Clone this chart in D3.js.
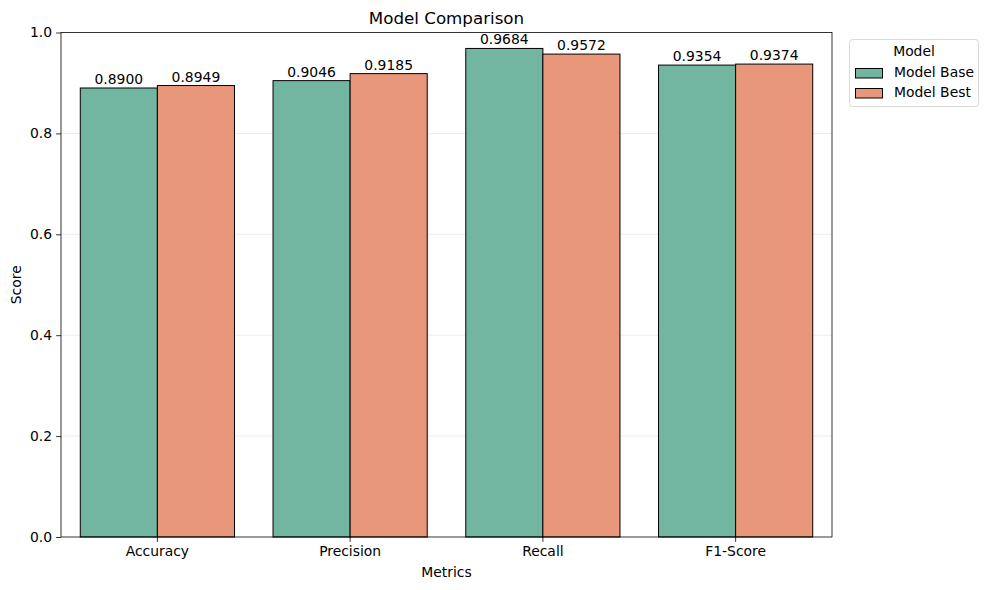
<!DOCTYPE html>
<html><head><meta charset="utf-8">
<script src="https://cdn.jsdelivr.net/npm/d3@7"></script>
<style>body{margin:0;background:#fff}svg{display:block}text{font-family:"DejaVu Sans",sans-serif;fill:#000}</style>
</head><body><svg id="c" width="989" height="590"></svg>
<script>
const categories = ["Accuracy","Precision","Recall","F1-Score"];
const seriesNames = ["Model Base","Model Best"];
const modelBase = [0.8900,0.9046,0.9684,0.9354];
const modelBest = [0.8949,0.9185,0.9572,0.9374];
const yTicks = [0.0,0.2,0.4,0.6,0.8,1.0];
const colors = ["#72b6a1","#e8977a"];
const FS="13.9px";

const svg = d3.select("#c");
const L=61,R=832,T=32.5,B=537;
const x = d3.scaleBand().domain(categories).range([L,R]).padding(0);
const inner = d3.scaleBand().domain(seriesNames).range([x.bandwidth()*0.1, x.bandwidth()*0.9]).padding(0);
const y = d3.scaleLinear().domain([0,1]).range([B,T]);

svg.append("g").selectAll("line").data(yTicks.slice(1,-1)).join("line")
  .attr("x1",L).attr("x2",R).attr("y1",d=>y(d)).attr("y2",d=>y(d))
  .attr("stroke","#e6e6e6").attr("stroke-width",0.8);

const series=[modelBase,modelBest];
series.forEach((vals,si)=>{
  const g=svg.append("g");
  g.selectAll("rect").data(vals).join("rect")
    .attr("x",(d,i)=>x(categories[i])+inner(seriesNames[si]))
    .attr("width",inner.bandwidth())
    .attr("y",d=>y(d)).attr("height",d=>y(0)-y(d))
    .attr("fill",colors[si]).attr("stroke","#000").attr("stroke-width",1);
  g.selectAll("text").data(vals).join("text")
    .attr("x",(d,i)=>x(categories[i])+inner(seriesNames[si])+inner.bandwidth()/2)
    .attr("y",d=>y(d)-4).attr("text-anchor","middle").attr("font-size",FS)
    .text(d=>d.toFixed(4));
});

const yAxis=d3.axisLeft(y).tickValues(yTicks).tickFormat(d3.format(".1f")).tickSize(4.9).tickPadding(4);
const ya=svg.append("g").attr("transform",`translate(${L},0)`).call(yAxis);
const xAxis=d3.axisBottom(x).tickSize(4.9).tickPadding(4);
const xa=svg.append("g").attr("transform",`translate(0,${B})`).call(xAxis);
[ya,xa].forEach(a=>{a.select(".domain").remove();a.selectAll("text").attr("font-size",FS).attr("font-family","DejaVu Sans").attr("fill","#000");a.selectAll("line").attr("stroke","#000").attr("stroke-width",0.8);});

svg.append("rect").attr("x",L).attr("y",T).attr("width",R-L).attr("height",B-T)
  .attr("fill","none").attr("stroke","#000").attr("stroke-width",0.8);

svg.append("text").attr("x",(L+R)/2).attr("y",24).attr("text-anchor","middle").attr("font-size","16.7px").text("Model Comparison");
svg.append("text").attr("x",(L+R)/2).attr("y",577).attr("text-anchor","middle").attr("font-size",FS).text("Metrics");
svg.append("text").attr("transform",`translate(21,${(T+B)/2}) rotate(-90)`).attr("text-anchor","middle").attr("font-size",FS).text("Score");

const lg=svg.append("g");
lg.append("rect").attr("x",849.5).attr("y",39.5).attr("width",129).attr("height",67).attr("rx",3)
  .attr("fill","#fff").attr("stroke","#d9d9d9").attr("stroke-width",1);
lg.append("text").attr("x",914).attr("y",56).attr("text-anchor","middle").attr("font-size",FS).text("Model");
seriesNames.forEach((n,i)=>{
  lg.append("rect").attr("x",855.5).attr("y",68.5+i*20).attr("width",27).attr("height",9.5)
    .attr("fill",colors[i]).attr("stroke","#000").attr("stroke-width",1);
  lg.append("text").attr("x",894).attr("y",77+i*20).attr("font-size",FS).text(n);
});
</script></body></html>
